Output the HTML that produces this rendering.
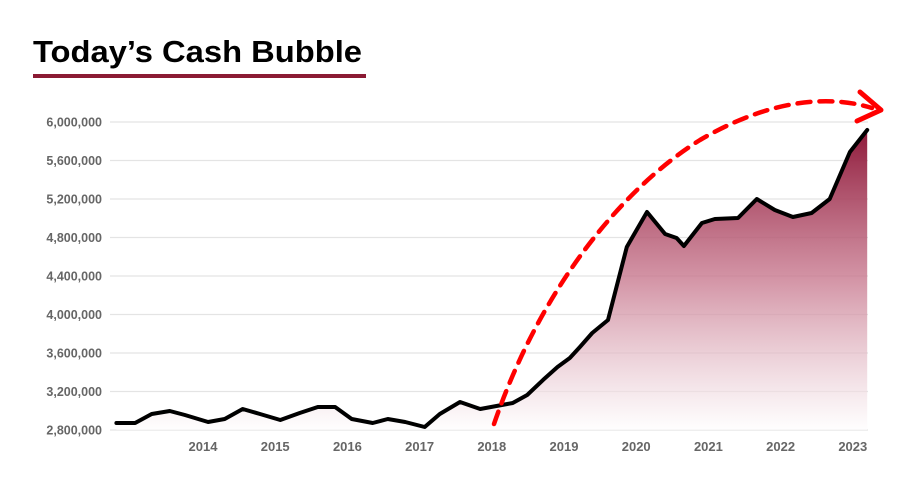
<!DOCTYPE html>
<html><head><meta charset="utf-8"><style>
html,body{margin:0;padding:0;background:#fff;}
svg{display:block;font-family:"Liberation Sans",Arial,sans-serif;}
</style></head><body>
<svg id="chart" width="904" height="479" viewBox="0 0 904 479">
<defs>
<linearGradient id="fillGrad" gradientUnits="userSpaceOnUse" x1="0" y1="125" x2="0" y2="432">
<stop offset="0" stop-color="#8c1536"/>
<stop offset="0.5" stop-color="#c8798f" stop-opacity="0.8"/>
<stop offset="1" stop-color="#ffffff" stop-opacity="0.6"/>
</linearGradient>
</defs>
<text x="33" y="62" font-size="31" font-weight="bold" fill="#000" textLength="329" lengthAdjust="spacingAndGlyphs">Today’s Cash Bubble</text>
<rect x="33" y="74" width="333" height="4" fill="#8b1a33"/>
<g id="grid"></g>
<g id="yticks"></g>
<g id="xticks"></g>
<path id="area" fill="url(#fillGrad)"/>
<path id="line" fill="none" stroke="#000" stroke-width="4" stroke-linejoin="round" stroke-linecap="round"/>
<path d="M494,424 C540,290 620,190 700,140 C760,105 820,92 872,108" fill="none" stroke="#ff0000" stroke-width="4.5" stroke-dasharray="13 9" stroke-linecap="round"/>
<path d="M860,92 L881,110 L857,121" fill="none" stroke="#ff0000" stroke-width="5" stroke-linecap="round" stroke-linejoin="round"/>
</svg>
<script>
const times = [2012.80,2013.06,2013.29,2013.54,2013.75,2014.07,2014.30,2014.55,2014.79,2015.07,2015.34,2015.59,2015.83,2016.06,2016.35,2016.56,2016.80,2017.07,2017.28,2017.56,2017.84,2018.29,2018.49,2018.71,2018.91,2019.08,2019.22,2019.39,2019.61,2019.87,2020.15,2020.40,2020.56,2020.66,2020.91,2021.09,2021.41,2021.67,2021.92,2022.17,2022.43,2022.68,2022.96,2023.20];
const values = [2873000,2873000,2966000,2997000,2956000,2883000,2914000,3018000,2966000,2904000,2977000,3039000,3039000,2914000,2873000,2914000,2883000,2831000,2966000,3091000,3018000,3081000,3164000,3320000,3455000,3548000,3662000,3808000,3943000,4701000,5065000,4836000,4795000,4712000,4951000,4992000,5003000,5200000,5086000,5013000,5055000,5200000,5688000,5917000];
const yTicks = [2800000,3200000,3600000,4000000,4400000,4800000,5200000,5600000,6000000];
const xTicks = [2014,2015,2016,2017,2018,2019,2020,2021,2022,2023];

const NS="http://www.w3.org/2000/svg";
function xs(t){return 203+(t-2014)*72.2;}
function ys(v){return 430-(v-2800000)/3200000*308;}
const grid=document.getElementById('grid'),yg=document.getElementById('yticks'),xg=document.getElementById('xticks');
yTicks.forEach(v=>{
  const l=document.createElementNS(NS,'line');
  
  
  l.setAttribute('x1',110);l.setAttribute('x2',868);
  l.setAttribute('y1',ys(v));l.setAttribute('y2',ys(v));
  l.setAttribute('stroke','#e4e4e4');l.setAttribute('stroke-width','1.3');
  grid.appendChild(l);
  const t=document.createElementNS(NS,'text');
  
  
  t.setAttribute('x',102);t.setAttribute('y',ys(v)+4.5);
  t.setAttribute('text-anchor','end');t.setAttribute('font-size','12.5');
  t.setAttribute('font-weight','bold');t.setAttribute('fill','#666');
  t.textContent=v.toLocaleString('en-US');
  yg.appendChild(t);
});
xTicks.forEach(y=>{
  const t=document.createElementNS(NS,'text');
  
  
  t.setAttribute('x',xs(y));t.setAttribute('y',451);
  t.setAttribute('text-anchor','middle');t.setAttribute('font-size','13');
  t.setAttribute('font-weight','bold');t.setAttribute('fill','#666');
  t.textContent=y;
  xg.appendChild(t);
});
let d='';
times.forEach((t,i)=>{d+=(i?'L':'M')+xs(t).toFixed(1)+','+ys(values[i]).toFixed(1);});
document.getElementById('line').setAttribute('d',d);
const last=times.length-1;
document.getElementById('area').setAttribute('d',d+'L'+xs(times[last]).toFixed(1)+','+ys(2800000)+'L'+xs(times[0]).toFixed(1)+','+ys(2800000)+'Z');
</script>
</body></html>
